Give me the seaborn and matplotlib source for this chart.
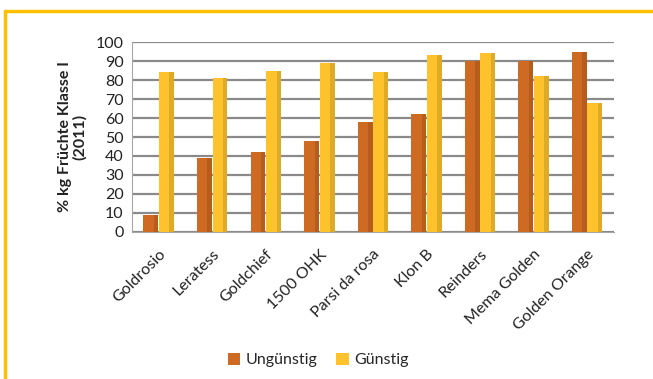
import numpy as np
import pandas as pd
import seaborn as sns
import matplotlib.pyplot as plt
from matplotlib.patches import Patch
from matplotlib.lines import Line2D

# Values
sorten = ["Goldrosio", "Leratess", "Goldchief", "1500 OHK", "Parsi da rosa",
          "Klon B", "Reinders", "Mema Golden", "Golden Orange"]
unguenstig = [9, 39, 42, 48, 58, 62, 90, 90, 95]
guenstig = [84, 81, 85, 89, 84, 93, 94, 82, 68]
serien = ["Ungünstig", "Günstig"]
farben = ["#CF6A22", "#FDC22C"]

df = pd.DataFrame({
    "Sorte": sorten * 2,
    "Wert": unguenstig + guenstig,
    "Serie": [serien[0]] * len(sorten) + [serien[1]] * len(sorten),
})

sns.set_style("white")
plt.rcParams["font.family"] = ["Lato", "DejaVu Sans"]

fig = plt.figure(figsize=(6.53, 3.79), dpi=100)
ax = fig.add_axes([0.202, 0.388, 0.738, 0.501])

sns.barplot(data=df, x="Sorte", y="Wert", hue="Serie", order=sorten,
            hue_order=serien, palette=farben, width=0.58, gap=0.04,
            saturation=1, edgecolor="none", linewidth=0, legend=False,
            ax=ax, zorder=3)

# darker right side for a slight cylinder look
for bar in list(ax.patches):
    x, w, h = bar.get_x(), bar.get_width(), bar.get_height()
    c = np.array(bar.get_facecolor()[:3])
    ax.bar(x + w * 0.7, h, width=w * 0.3, color=c * 0.88, zorder=4,
           align="edge", linewidth=0)

ax.set_ylim(0, 100)
ax.set_yticks(range(0, 101, 10))
ax.yaxis.grid(True, color="#8a8a8a", linewidth=1.6, zorder=0)
ax.set_xlim(-0.5, len(sorten) - 0.5)

for s in ["top", "right"]:
    ax.spines[s].set_visible(False)
ax.spines["left"].set_color("#a6a6a6")
ax.spines["bottom"].set_color("#a6a6a6")

ax.tick_params(axis="y", labelsize=11.5, colors="#222222", length=0, pad=6)
ax.tick_params(axis="x", which="major", length=0, labelsize=11.5,
               labelcolor="#222222", pad=11)
ax.set_xticks(np.arange(-0.5, len(sorten)), minor=True)
ax.tick_params(axis="x", which="minor", length=5, color="#a6a6a6")
plt.setp(ax.get_xticklabels(), rotation=45, ha="right", rotation_mode="anchor")

ax.set_xlabel("")
ax.set_ylabel("% kg Früchte Klasse I\n(2011)", fontsize=11.5,
              fontweight="bold", color="#222222", labelpad=6,
              linespacing=1.1)

handles = [Patch(facecolor=f, edgecolor="none") for f in farben]
fig.legend(handles, serien, loc="center", bbox_to_anchor=(0.487, 0.05),
           ncol=2, frameon=False, fontsize=11.5, handlelength=0.8,
           handleheight=0.8, handletextpad=0.3, columnspacing=1.2)

# yellow frame (top and left edges visible)
fig.add_artist(Line2D([0.008, 1.0], [0.972, 0.972], color="#FFC000",
                      linewidth=2.5, transform=fig.transFigure))
fig.add_artist(Line2D([0.008, 0.008], [0.0, 0.972], color="#FFC000",
                      linewidth=2.5, transform=fig.transFigure))

fig.savefig("out.png", dpi=100)
